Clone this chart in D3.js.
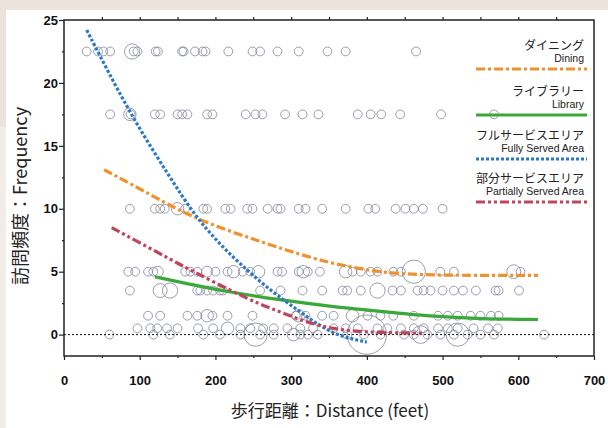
<!DOCTYPE html>
<html>
<head>
<meta charset="utf-8">
<script src="https://cdn.jsdelivr.net/npm/d3@7"></script>
<style>
  body { margin: 0; background: #ebe4dd; }
  svg { display: block; }
</style>
</head>
<body>
<div id="figure_area"></div>
<script>
// ----- ----- ----- ----- ----- ----- ----- ----- -----
// DATA
// scatter rows: [distance, count] per frequency level
var freqLevels = [22.5, 17.5, 10, 5, 3.5, 1.5, 0.5, 0];
var row22_5 = [[30,1],[45,1],[52,1],[61,1],[90,3],[92,1],[97,1],[121,1],[124,1],[156,1],[158,1],[173,1],[183,1],[187,1],
    [217,1],[249,1],[259,1],[282,1],[310,1],[348,1],[372,1],[465,1]];
var row17_5 = [[61,1],[87,2],[88,1],[120,1],[127,1],[150,1],[156,1],[163,1],[189,1],[196,1],[240,1],[253,1],[262,1],
    [292,1],[315,1],[336,1],[388,1],[405,1],[419,1],[444,1],[498,1],[568,1]];
var row10 = [[87,1],[120,1],[127,1],[133,1],[150,2],[160,1],[184,1],[189,1],[213,1],[220,1],[242,1],[249,1],[269,1],
    [282,1],[286,1],[310,1],[319,1],[341,1],[372,1],[402,1],[411,1],[438,1],[451,1],[462,1],[474,1],[500,1]];
var row5 = [[85,1],[94,1],[111,1],[118,1],[124,1.5],[160,1],[167,1],[176,1],[189,1.5],[200,1],[216,1],[224,2],[236,1],
    [246,1],[257,2],[282,1],[288,1],[310,1],[316,2],[322,1],[338,1],[372,2],[381,1],[392,1],[405,1],[414,1],[435,1],
    [445,1],[462,7],[497,1],[515,1],[594,2.5],[603,1]];
var row3_5 = [[87,1],[127,2.5],[140,3],[176,1],[180,1],[189,1],[197,1],[206,1],[210,1],[259,1],[286,1],[315,1],[341,1],
    [368,1],[374,1],[392,1],[414,3],[434,1],[445,1],[467,1],[475,1],[484,1],[500,1],[515,1],[527,1],[544,1],[570,1],
    [574,1],[601,1]];
var row1_5 = [[111,1],[127,1],[163,1],[176,1],[189,2],[196,1],[216,1],[249,1],[306,1],[310,2],[319,1],[341,1],[356,1],
    [381,2],[401,1],[418,1],[435,1],[462,1],[494,1],[507,1],[520,1],[537,1],[550,1],[564,1],[574,1]];
var row0_5 = [[97,1],[114,1],[123,1],[136,1],[150,1],[177,1],[197,1],[216,2],[233,1],[246,1],[263,1],[277,1],[295,1],
    [312,1],[329,1],[356,1],[372,1],[388,1],[414,1],[427,1],[445,1],[462,1],[475,1],[494,1],[507,1],[520,1],[541,1],
    [560,1],[573,1]];
var row0 = [[60,1],[118,1],[140,1],[184,1],[206,1],[233,1],[253,7],[259,1],[277,1],[303,2],[312,1],[322,1],[335,1],
    [374,1],[396,1],[400,20],[418,1],[449,1],[462,1],[471,4],[480,1],[497,1],[515,1],[520,7],[533,1],[550,1],[568,1],
    [634,1]];
var scatterRows = [row22_5, row17_5, row10, row5, row3_5, row1_5, row0_5, row0];

// regression curves: [distance, frequency]
var curveDining = [[53,13.1],[100,11.6],[171,9.2],[259,7.4],[325,6.1],[374,5.4],[418,4.95],[470,4.75],[540,4.7],[626,4.7]];
var curveLibrary = [[120,4.6],[170,3.95],[216,3.4],[286,2.75],[350,2.25],[418,1.85],[484,1.45],[550,1.25],[626,1.2]];
var curveFull = [[30,24.2],[65,20.1],[100,16.3],[140,12.5],[171,9.6],[205,7.2],[242,5.1],[275,3.4],[303,2.2],[330,1.0],
    [361,-0.1],[400,-0.6]];
var curvePartial = [[63,8.5],[100,7.3],[140,6.0],[171,5.0],[220,3.5],[259,2.4],[290,1.7],[329,0.8],[370,0.3],[420,0.15],[475,0.12]];

var legendJp = ["ダイニング", "ライブラリー", "フルサービスエリア", "部分サービスエリア"];
var legendEn = ["Dining", "Library", "Fully Served Area", "Partially Served Area"];

var xTicks = [0, 100, 200, 300, 400, 500, 600, 700];
var yTicks = [0, 5, 10, 15, 20, 25];

// ----- ----- ----- ----- ----- ----- ----- ----- -----
// FIGURE
const figure_size = { width: 608, height: 428 };
const plot = { left: 64, right: 594, top: 20, bottom: 356 };
const fontJp = "'Noto Sans CJK JP', 'Noto Sans', sans-serif";
const fontNum = "'Liberation Sans', Arial, sans-serif";

var svg = d3.select("#figure_area")
    .append("svg")
    .attr("width", figure_size.width)
    .attr("height", figure_size.height);

// page panels
svg.append("rect").attr("x", 0).attr("y", 0).attr("width", 608).attr("height", 428).attr("fill", "#ebe4dd");
svg.append("rect").attr("x", 0).attr("y", 127).attr("width", 6).attr("height", 301).attr("fill", "#f1ece7");
svg.append("rect").attr("x", 6).attr("y", 10).attr("width", 602).attr("height", 418).attr("fill", "#ffffff");

var x_scale = d3.scaleLinear().domain([0, 700]).range([plot.left, plot.right]);
var y_scale = d3.scaleLinear().domain([-1.7, 25]).range([plot.bottom, plot.top]);

// size scale (count -> radius)
var r_scale = d3.scaleSqrt().domain([0, 1]).range([0, 4.4]);

// scatter circles
scatterRows.forEach(function (row, i) {
    svg.append("g").selectAll("circle")
        .data(row)
        .enter()
        .append("circle")
        .attr("cx", function (d) { return x_scale(d[0]); })
        .attr("cy", y_scale(freqLevels[i]))
        .attr("r", function (d) { return r_scale(d[1]); })
        .attr("fill", "none")
        .attr("stroke", "#7b8095")
        .attr("stroke-opacity", 0.85)
        .attr("stroke-width", 0.9);
});

// zero line
svg.append("line")
    .attr("x1", x_scale(0)).attr("x2", x_scale(700))
    .attr("y1", y_scale(0)).attr("y2", y_scale(0))
    .attr("stroke", "#111").attr("stroke-width", 1)
    .attr("stroke-dasharray", "2,2");

// curves
var line = d3.line()
    .x(function (d) { return x_scale(d[0]); })
    .y(function (d) { return y_scale(d[1]); })
    .curve(d3.curveBasis);

var curveStyles = [
    { data: curveDining, color: "#f0922b", dash: "9,3,3,3" },
    { data: curveLibrary, color: "#3aa93a", dash: null },
    { data: curveFull, color: "#2a78c6", dash: "3,2" },
    { data: curvePartial, color: "#c0445c", dash: "9,3,3,3,3,3" }
];

curveStyles.forEach(function (c) {
    svg.append("path")
        .datum(c.data)
        .attr("fill", "none")
        .attr("stroke", c.color)
        .attr("stroke-width", 3.2)
        .attr("stroke-dasharray", c.dash)
        .attr("d", line);
});

// axes
var x_axis = d3.axisBottom(x_scale).tickValues(xTicks).tickSize(4).tickFormat(d3.format("d"));
var x_minor = d3.axisBottom(x_scale).tickValues(d3.range(50, 700, 100)).tickSize(2).tickFormat("");
var x_top = d3.axisTop(x_scale).tickValues(d3.range(50, 700, 50)).tickSize(3).tickFormat("");
var y_axis = d3.axisLeft(y_scale).tickValues(yTicks).tickSize(5).tickFormat(d3.format("d"));
var y_minor = d3.axisLeft(y_scale).tickValues([2.5, 7.5, 12.5, 17.5, 22.5]).tickSize(2).tickFormat("");

function styleAxis(g) {
    g.select(".domain").remove();
    g.selectAll("line").attr("stroke", "#222").attr("stroke-width", 1.2);
    g.selectAll("text")
        .attr("fill", "#111")
        .style("font-family", fontNum)
        .style("font-weight", "bold")
        .style("font-size", "13px");
}

svg.append("g").attr("transform", "translate(0," + plot.bottom + ")").call(x_axis).call(styleAxis)
    .selectAll("text").attr("y", 20);
svg.append("g").attr("transform", "translate(0," + plot.bottom + ")").call(x_minor).call(styleAxis);
svg.append("g").attr("transform", "translate(0," + plot.top + ")").call(x_top).call(styleAxis);
svg.append("g").attr("transform", "translate(" + plot.left + ",0)").call(y_axis).call(styleAxis)
    .selectAll("text").attr("x", -6);
svg.append("g").attr("transform", "translate(" + plot.left + ",0)").call(y_minor).call(styleAxis);

// frame
svg.append("rect")
    .attr("x", plot.left).attr("y", plot.top)
    .attr("width", plot.right - plot.left).attr("height", plot.bottom - plot.top)
    .attr("fill", "none").attr("stroke", "#222").attr("stroke-width", 1.5);

// axis labels
svg.append("text")
    .attr("x", 330).attr("y", 417)
    .attr("text-anchor", "middle")
    .attr("fill", "#222")
    .style("font-family", fontJp).style("font-size", "17px")
    .text("歩行距離：Distance (feet)");

svg.append("text")
    .attr("transform", "translate(27,196) rotate(-90)")
    .attr("text-anchor", "middle")
    .attr("fill", "#222")
    .style("font-family", fontJp).style("font-size", "18px")
    .text("訪問頻度：Frequency");

// legend
var legendTop = [50, 96, 140, 183];
legendJp.forEach(function (t, i) {
    var y0 = legendTop[i];
    svg.append("text")
        .attr("x", 584).attr("y", y0)
        .attr("text-anchor", "end").attr("fill", "#222")
        .style("font-family", fontJp).style("font-size", "12px")
        .text(t);
    svg.append("text")
        .attr("x", 584).attr("y", y0 + 12)
        .attr("text-anchor", "end").attr("fill", "#222")
        .style("font-family", fontNum).style("font-size", "10.5px")
        .text(legendEn[i]);
    svg.append("line")
        .attr("x1", 476).attr("x2", 587)
        .attr("y1", y0 + 19).attr("y2", y0 + 19)
        .attr("stroke", curveStyles[i].color)
        .attr("stroke-width", 3)
        .attr("stroke-dasharray", curveStyles[i].dash);
});
</script>
</body>
</html>
